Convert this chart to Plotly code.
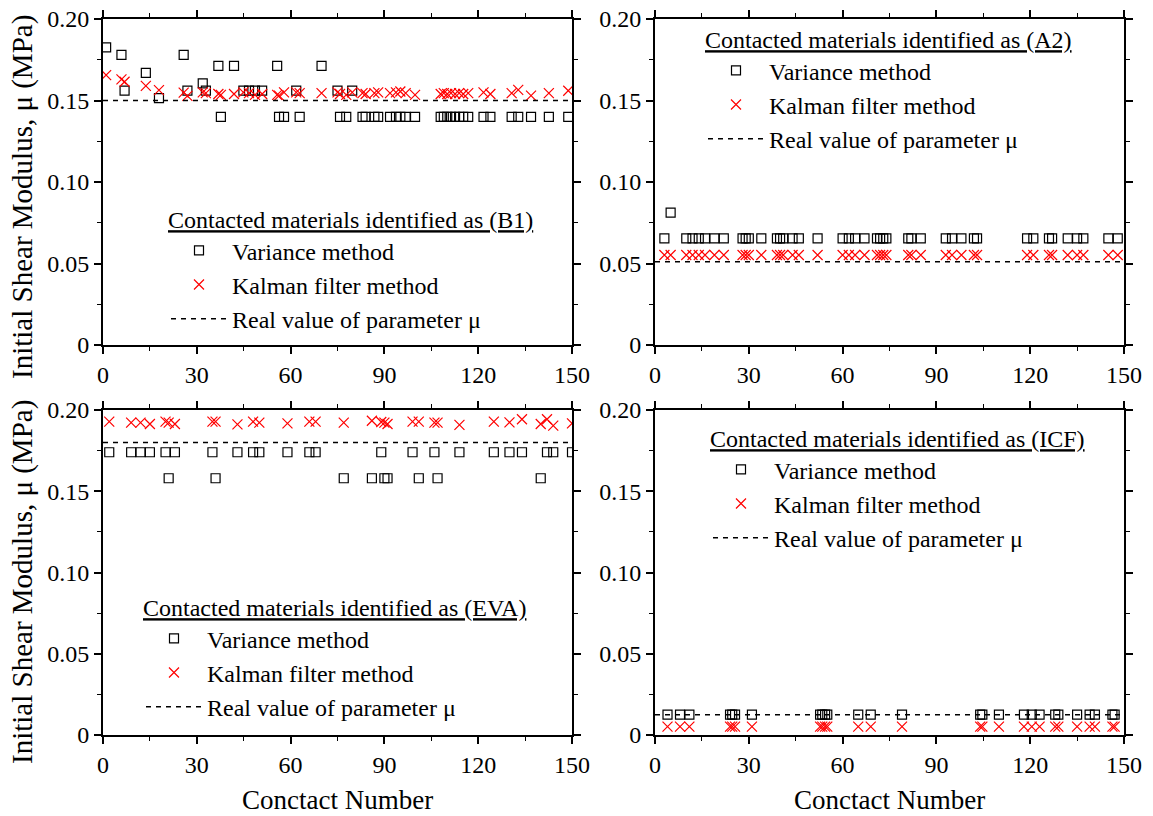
import plotly.graph_objects as go

W, H = 1153, 816

# ---------------- data ----------------
x_ticks = [0, 30, 60, 90, 120, 150]
x_tick_labels = ["0", "30", "60", "90", "120", "150"]
y_ticks = [0, 0.05, 0.10, 0.15, 0.20]
y_tick_labels = ["0", "0.05", "0.10", "0.15", "0.20"]

# (B1)
b1_contact = [1, 5.9, 6.9, 13.7, 17.9, 25.8, 27, 31.9, 32.9, 36.9, 37.7, 41.9, 44.9, 46.7, 48.6,
              50.9, 55.7, 56.3, 57.9, 61.8, 62.9, 69.9, 75, 75.8, 77.8, 79.7, 83, 84, 86.8, 88,
              91.8, 93.7, 95.1, 96.8, 99.8, 108, 109, 110.1, 111.3, 112.6, 113.9, 115.2, 116.8,
              121.7, 123.9, 130.7, 132.8, 136.9, 142.6, 148.8]
b1_variance = [0.1826, 0.178, 0.156, 0.167, 0.1515, 0.178, 0.156, 0.1605, 0.156, 0.1713, 0.140,
               0.1713, 0.156, 0.156, 0.156, 0.156, 0.1713, 0.140, 0.140, 0.156, 0.140, 0.1713,
               0.156, 0.140, 0.140, 0.156, 0.140, 0.140, 0.140, 0.140, 0.140, 0.140, 0.140, 0.140,
               0.140, 0.140, 0.140, 0.140, 0.140, 0.140, 0.140, 0.140, 0.140, 0.140, 0.140, 0.140,
               0.140, 0.140, 0.140, 0.140]
b1_kalman = [0.1656, 0.163, 0.1615, 0.159, 0.1564, 0.1548, 0.1528, 0.155, 0.1545, 0.154, 0.1535,
             0.154, 0.155, 0.1545, 0.1535, 0.154, 0.1535, 0.153, 0.155, 0.155, 0.1545, 0.1545,
             0.155, 0.154, 0.1535, 0.155, 0.1545, 0.154, 0.1545, 0.155, 0.1545, 0.155, 0.1555,
             0.1545, 0.1535, 0.154, 0.1545, 0.154, 0.1545, 0.154, 0.1545, 0.154, 0.1545, 0.155,
             0.154, 0.1545, 0.1565, 0.153, 0.1545, 0.156]
b1_real = 0.15

# (A2)
a2_contact = [3, 5, 10, 12, 14, 16, 19, 22, 28, 29, 30, 34, 39, 40, 41, 44, 46, 52, 60, 62, 64,
              67, 71, 72, 73, 74, 81, 82, 85, 93, 95, 98, 102, 103, 119, 121, 126, 127, 132,
              135, 137, 145, 148]
a2_variance = [0.0654, 0.0812, 0.0654, 0.0654, 0.0654, 0.0654, 0.0654, 0.0654, 0.0654, 0.0654,
               0.0654, 0.0654, 0.0654, 0.0654, 0.0654, 0.0654, 0.0654, 0.0654, 0.0654, 0.0654,
               0.0654, 0.0654, 0.0654, 0.0654, 0.0654, 0.0654, 0.0654, 0.0654, 0.0654, 0.0654,
               0.0654, 0.0654, 0.0654, 0.0654, 0.0654, 0.0654, 0.0654, 0.0654, 0.0654, 0.0654,
               0.0654, 0.0654, 0.0654]
a2_kalman = [0.0552, 0.0552, 0.0552, 0.0552, 0.0552, 0.0552, 0.0552, 0.0552, 0.0552, 0.0552,
             0.0552, 0.0552, 0.0552, 0.0552, 0.0552, 0.0552, 0.0552, 0.0552, 0.0552, 0.0552,
             0.0552, 0.0552, 0.0552, 0.0552, 0.0552, 0.0552, 0.0552, 0.0552, 0.0552, 0.0552,
             0.0552, 0.0552, 0.0552, 0.0552, 0.0552, 0.0552, 0.0552, 0.0552, 0.0552, 0.0552,
             0.0552, 0.0552, 0.0552]
a2_real = 0.051

# (EVA)
eva_contact = [2, 9, 12, 15, 20, 21, 23, 35, 36, 43, 48, 50, 59, 66, 68, 77, 86, 89, 90, 91, 99,
               101, 106, 107, 114, 125, 130, 134, 140, 142, 144, 150]
eva_variance = [0.174, 0.174, 0.174, 0.174, 0.174, 0.158, 0.174, 0.174, 0.158, 0.174, 0.174,
                0.174, 0.174, 0.174, 0.174, 0.158, 0.158, 0.174, 0.158, 0.158, 0.174, 0.158,
                0.174, 0.158, 0.174, 0.174, 0.174, 0.174, 0.158, 0.174, 0.174, 0.174]
eva_kalman = [0.1928, 0.1922, 0.1922, 0.1914, 0.1928, 0.1922, 0.1914, 0.1928, 0.1928, 0.1912,
              0.1928, 0.1922, 0.1918, 0.1928, 0.1928, 0.1922, 0.1934, 0.1926, 0.1922, 0.1914,
              0.1928, 0.1928, 0.1922, 0.1922, 0.1908, 0.1928, 0.1924, 0.1943, 0.1914, 0.1943,
              0.1904, 0.1918]
eva_real = 0.18

# (ICF)
icf_contact = [4, 8, 11, 24, 24.7, 25.6, 31, 52.8, 53.5, 54.4, 55.1, 65, 69, 79, 104, 104.7, 110,
               118, 120.5, 123, 128, 129, 135, 139, 140.7, 146.3, 147]
icf_variance = [0.0125, 0.0125, 0.0125, 0.0125, 0.0125, 0.0125, 0.0125, 0.0125, 0.0125,
                0.0125, 0.0125, 0.0125, 0.0125, 0.0125, 0.0125, 0.0125, 0.0125, 0.0125,
                0.0125, 0.0125, 0.0125, 0.0125, 0.0125, 0.0125, 0.0125, 0.0125, 0.0125]
icf_kalman = [0.0052, 0.0052, 0.0052, 0.0052, 0.0052, 0.0052, 0.0052, 0.0052, 0.0052, 0.0052,
              0.0052, 0.0052, 0.0052, 0.0052, 0.0052, 0.0052, 0.0052, 0.0052, 0.0052, 0.0052,
              0.0052, 0.0052, 0.0052, 0.0052, 0.0052, 0.0052, 0.0052]
icf_real = 0.0125

x_range = [0, 150]
y_range = [0, 0.20]

# ---------------- figure ----------------
FONT = "Liberation Serif, Times New Roman, serif"
fig = go.Figure()

panels = [
    ("B1", b1_contact, b1_variance, b1_kalman, b1_real, "x", "y", "legend"),
    ("A2", a2_contact, a2_variance, a2_kalman, a2_real, "x2", "y2", "legend2"),
    ("EVA", eva_contact, eva_variance, eva_kalman, eva_real, "x3", "y3", "legend3"),
    ("ICF", icf_contact, icf_variance, icf_kalman, icf_real, "x4", "y4", "legend4"),
]

for name, cx, var, kal, real, xa, ya, lg in panels:
    fig.add_trace(go.Scatter(
        x=cx, y=var, mode="markers", xaxis=xa, yaxis=ya, legend=lg,
        name="Variance method",
        marker=dict(symbol="square-open", size=9, color="black", line=dict(width=1.2, color="black")),
    ))
    fig.add_trace(go.Scatter(
        x=cx, y=kal, mode="markers", xaxis=xa, yaxis=ya, legend=lg,
        name="Kalman filter method",
        marker=dict(symbol="x-thin-open", size=10, color="red", line=dict(width=1.2, color="red")),
    ))
    fig.add_trace(go.Scatter(
        x=x_range, y=[real, real], mode="lines", xaxis=xa, yaxis=ya, legend=lg,
        name="Real value of parameter \u03bc",
        line=dict(color="black", width=1.5, dash="5px,5px"),
    ))

# domains in pixels
xdom_left = [103 / W, 572 / W]
xdom_right = [655 / W, 1124 / W]
ydom_top = [1 - 345 / H, 1 - 19 / H]
ydom_bot = [1 - 735 / H, 1 - 410 / H]

def xaxis_style(dom, anchor):
    return dict(
        domain=dom, anchor=anchor, range=x_range, tickmode="array", tickvals=x_ticks,
        ticktext=x_tick_labels, ticks="outside", ticklen=7, tickwidth=1.5, tickcolor="black",
        showline=True, linewidth=2, linecolor="black", mirror="ticks", showgrid=False,
        zeroline=False, automargin=False, tickfont=dict(family=FONT, size=24, color="black"),
        minor=dict(tickmode="linear", tick0=0, dtick=15, ticks="outside", ticklen=4,
                   tickwidth=1.2, tickcolor="black", showgrid=False),
    )

def yaxis_style(dom, anchor):
    return dict(
        domain=dom, anchor=anchor, range=y_range, tickmode="array", tickvals=y_ticks,
        ticktext=y_tick_labels, ticks="outside", ticklen=7, tickwidth=1.5, tickcolor="black",
        showline=True, linewidth=2, linecolor="black", mirror="ticks", showgrid=False,
        zeroline=False, automargin=False, tickfont=dict(family=FONT, size=24, color="black"),
        minor=dict(tickmode="linear", tick0=0, dtick=0.025, ticks="outside", ticklen=4,
                   tickwidth=1.2, tickcolor="black", showgrid=False),
    )

def legend_style(px, py, title):
    return dict(
        x=px / W, y=1 - py / H, xanchor="left", yanchor="top",
        bgcolor="rgba(0,0,0,0)", borderwidth=0, itemwidth=56, tracegroupgap=0,
        font=dict(family=FONT, size=24, color="black"),
        title=dict(text="<u>" + title + "</u>", font=dict(family=FONT, size=24, color="black"),
                   side="top"),
    )

fig.update_layout(
    width=W, height=H, margin=dict(l=0, r=0, t=0, b=0, pad=0, autoexpand=False),
    paper_bgcolor="white", plot_bgcolor="white",
    font=dict(family=FONT, color="black"),
    showlegend=True,
    xaxis=xaxis_style(xdom_left, "y"), yaxis=yaxis_style(ydom_top, "x"),
    xaxis2=xaxis_style(xdom_right, "y2"), yaxis2=yaxis_style(ydom_top, "x2"),
    xaxis3=xaxis_style(xdom_left, "y3"), yaxis3=yaxis_style(ydom_bot, "x3"),
    xaxis4=xaxis_style(xdom_right, "y4"), yaxis4=yaxis_style(ydom_bot, "x4"),
    legend=legend_style(166, 197, "Contacted materials identified as (B1)"),
    legend2=legend_style(703, 17, "Contacted materials identified as (A2)"),
    legend3=legend_style(141, 585, "Contacted materials identified as (EVA)"),
    legend4=legend_style(708, 416, "Contacted materials identified as (ICF)"),
)

ytitle = "Initial Shear Modulus, \u03bc (MPa)"
xtitle = "Conctact Number"
for yc in [197, 582]:
    fig.add_annotation(text=ytitle, xref="paper", yref="paper", x=22 / W, y=1 - yc / H,
                       textangle=-90, showarrow=False, xanchor="center", yanchor="middle",
                       font=dict(family=FONT, size=29, color="black"))
for xc in [337, 889]:
    fig.add_annotation(text=xtitle, xref="paper", yref="paper", x=xc / W, y=1 - 800 / H,
                       showarrow=False, xanchor="center", yanchor="middle",
                       font=dict(family=FONT, size=27, color="black"))

fig.write_html("out.html")
